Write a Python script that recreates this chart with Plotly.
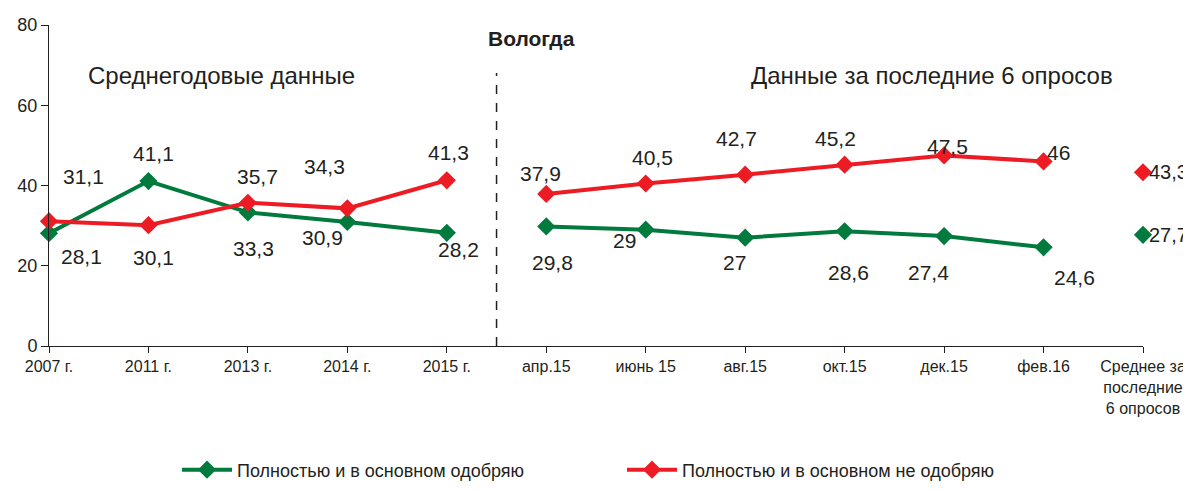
import plotly.graph_objects as go

categories = ["2007 г.", "2011 г.", "2013 г.", "2014 г.", "2015 г.",
              "апр.15", "июнь 15", "авг.15", "окт.15", "дек.15", "фев.16",
              "Среднее за<br>последние<br>6 опросов"]
approve = [28.1, 41.1, 33.3, 30.9, 28.2, 29.8, 29, 27, 28.6, 27.4, 24.6, 27.7]
disapprove = [31.1, 30.1, 35.7, 34.3, 41.3, 37.9, 40.5, 42.7, 45.2, 47.5, 46, 43.3]
series_names = ["Полностью и в основном одобряю", "Полностью и в основном не одобряю"]
title_text = "Вологда"
section_left = "Среднегодовые данные"
section_right = "Данные за последние 6 опросов"

# label offsets in pixels (dx, dy) - style only
approve_off = [(32, -23), (5, 28), (6, -36), (-25, -15), (12, -17), (6, -36),
               (-21, -11), (-11, -25), (4, -41), (-16, -36), (31, -30), (4, 0)]
disapprove_off = [(34, 45), (5, -32), (10, 26), (-23, 42), (2, 28), (-6, 20),
                  (7, 26), (-9, 36), (-9, 26), (3, 9), (15, 9), (4, 0)]

GREEN = "#007A3D"
RED = "#ED1C24"
TXT = "#231F20"
FONT = "Liberation Sans, Arial, sans-serif"

# page has an 8px body margin; the figure is sized to fill the rest of the window
PAGE_OFF = 8
W, H = 1191 - PAGE_OFF, 491 - PAGE_OFF
PLOT_L, PLOT_R, PLOT_T, PLOT_B = 49, 1143, 25, 346  # in window pixels
L = PLOT_L - PAGE_OFF
T = PLOT_T - PAGE_OFF
R = W - (PLOT_R - PAGE_OFF)
B = H - (PLOT_B - PAGE_OFF)
PW = PLOT_R - PLOT_L
PH = PLOT_B - PLOT_T


def px(x):
    return (x - PLOT_L) / PW


def py(y):
    return (PLOT_B - y) / PH


segments = [(0, 5), (5, 11), (11, 12)]
xs = list(range(len(categories)))

fig = go.Figure()
for vals, color, name in [(approve, GREEN, series_names[0]), (disapprove, RED, series_names[1])]:
    for k, (a, b) in enumerate(segments):
        fig.add_trace(go.Scatter(
            x=xs[a:b], y=vals[a:b], mode="lines+markers",
            line=dict(color=color, width=4),
            marker=dict(symbol="diamond", size=14, color=color),
            name=name, legendgroup=name, showlegend=(k == 0),
            cliponaxis=False, hoverinfo="skip"))

annotations = []
for vals, offs in [(approve, approve_off), (disapprove, disapprove_off)]:
    for i, (v, (dx, dy)) in enumerate(zip(vals, offs)):
        last = i == len(vals) - 1
        annotations.append(dict(
            x=xs[i], y=v, xref="x", yref="y", text=f"{v:g}".replace(".", ","),
            showarrow=False, xshift=dx, yshift=dy,
            xanchor="left" if last else "center", yanchor="middle",
            font=dict(size=20 if last else 21, color=TXT, family=FONT)))

annotations.append(dict(x=px(531), y=py(38), xref="paper", yref="paper",
                        xanchor="center", yanchor="middle",
                        text=f"<b>{title_text}</b>", showarrow=False,
                        font=dict(size=21, color=TXT, family=FONT)))
annotations.append(dict(x=px(221), y=py(75), xref="paper", yref="paper",
                        xanchor="center", yanchor="middle",
                        text=section_left, showarrow=False,
                        font=dict(size=24, color=TXT, family=FONT)))
annotations.append(dict(x=px(932), y=py(75), xref="paper", yref="paper",
                        xanchor="center", yanchor="middle",
                        text=section_right, showarrow=False,
                        font=dict(size=24, color=TXT, family=FONT)))

fig.add_shape(type="line", xref="x", yref="paper", x0=4.5, x1=4.5,
              y0=0, y1=py(73),
              line=dict(color=TXT, width=1.5, dash="dash"))

fig.update_layout(
    width=W, height=H,
    margin=dict(l=L, r=R, t=T, b=B, autoexpand=False),
    paper_bgcolor="white", plot_bgcolor="white",
    annotations=annotations,
    showlegend=True,
    legend=dict(orientation="h", x=px(177), xanchor="left",
                y=py(470), yanchor="middle",
                font=dict(size=18, color=TXT, family=FONT),
                itemwidth=50, entrywidth=380, entrywidthmode="pixels",
                bgcolor="rgba(0,0,0,0)"),
    font=dict(family=FONT, color=TXT),
)
fig.update_xaxes(range=[0, 11], tickvals=xs, ticktext=categories, automargin=False,
                 showgrid=False, zeroline=False, showline=True, linecolor=TXT, linewidth=1,
                 ticks="outside", ticklen=6, tickcolor=TXT,
                 tickfont=dict(size=16, color=TXT, family=FONT))
fig.update_yaxes(range=[0, 80], tickvals=[0, 20, 40, 60, 80], automargin=False,
                 showgrid=False, zeroline=False, showline=True, linecolor=TXT, linewidth=1,
                 ticks="outside", ticklen=7, tickcolor=TXT,
                 tickfont=dict(size=18, color=TXT, family=FONT))

fig.write_html("out.html")
